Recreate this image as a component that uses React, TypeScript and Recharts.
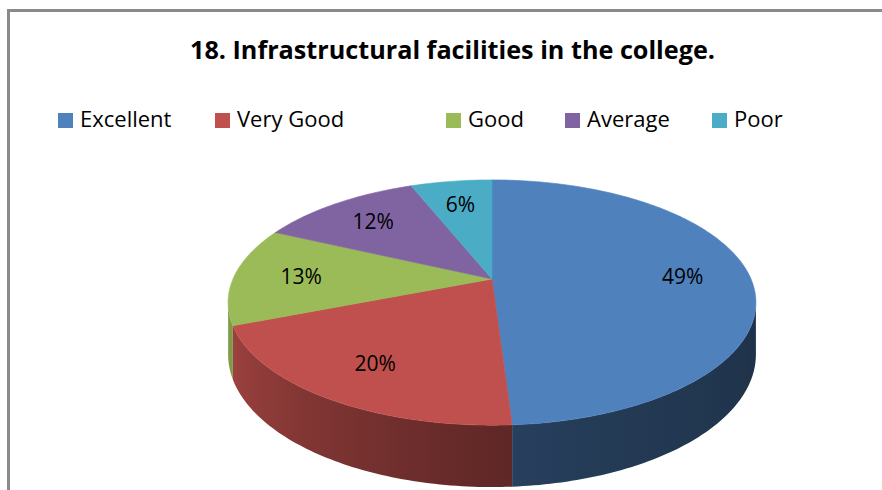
import React from 'react';
import { PieChart, Pie, Legend } from 'recharts';

const title = '18. Infrastructural facilities in the college.';
const categories = ['Excellent', 'Very Good', 'Good', 'Average', 'Poor'];
const values = [49, 20, 13, 12, 6];
const colors = ['#4F81BD', '#C0504D', '#9BBB59', '#8064A2', '#4BACC6'];

const data = categories.map((name, i) => ({ name, value: values[i] }));

// layout / projection constants
const CX = 492;
const CY = 279;
const R = 259;
const P = 0.192; // perspective factor
const KY = 0.456; // vertical squash
const DEPTH = 50;
const ALPHA = (Math.asin(P) * 180) / Math.PI;
const VIS_LO = -180 + ALPHA;
const VIS_HI = -ALPHA;
const FONT = '"Open Sans", "Liberation Sans", Arial, sans-serif';

const legendX = [58, 215, 446, 565, 712];

function proj(cx: number, cy: number, r: number, deg: number, frac = 1) {
  const t = (deg * Math.PI) / 180;
  const X = Math.cos(t) * frac;
  const Z = Math.sin(t) * frac;
  const w = 1 + P * Z;
  return { x: cx + (r * X) / w, y: cy - (r * KY * Z) / w, w };
}

const shadeStops: [number, number][] = [
  [-170, 0.86],
  [-150, 0.78],
  [-120, 0.64],
  [-90, 0.5],
  [-60, 0.44],
  [-30, 0.4],
  [-10, 0.38],
];

function shadeFactor(a: number) {
  if (a <= shadeStops[0][0]) return shadeStops[0][1];
  for (let i = 1; i < shadeStops.length; i++) {
    const [a1, f1] = shadeStops[i];
    const [a0, f0] = shadeStops[i - 1];
    if (a <= a1) return f0 + ((a - a0) / (a1 - a0)) * (f1 - f0);
  }
  return shadeStops[shadeStops.length - 1][1];
}

function shade(hex: string, f: number) {
  const n = parseInt(hex.slice(1), 16);
  const r = Math.round(((n >> 16) & 255) * f);
  const g = Math.round(((n >> 8) & 255) * f);
  const b = Math.round((n & 255) * f);
  return `rgb(${r},${g},${b})`;
}

const renderSlice = (props: any) => {
  const { cx, cy, outerRadius, startAngle, endAngle, index, midAngle, percent } = props;
  const color = colors[index % colors.length];
  const lo = Math.min(startAngle, endAngle);
  const hi = Math.max(startAngle, endAngle);
  const n = Math.max(8, Math.ceil(hi - lo));
  const pts: string[] = [];
  for (let k = 0; k <= n; k++) {
    const a = lo + ((hi - lo) * k) / n;
    const p = proj(cx, cy, outerRadius, a);
    pts.push(`${p.x.toFixed(2)},${p.y.toFixed(2)}`);
  }
  const topD = `M${cx},${cy} L${pts.join(' L')} Z`;

  let side: React.ReactNode = null;
  const vlo = Math.max(lo, VIS_LO);
  const vhi = Math.min(hi, VIS_HI);
  if (vhi > vlo) {
    const m = Math.max(2, Math.ceil(vhi - vlo));
    const topPts: { x: number; y: number; w: number; a: number }[] = [];
    for (let k = 0; k <= m; k++) {
      const a = vlo + ((vhi - vlo) * k) / m;
      const p = proj(cx, cy, outerRadius, a);
      topPts.push({ ...p, a });
    }
    const bottom = topPts.map((p) => `${p.x.toFixed(2)},${(p.y + DEPTH / p.w).toFixed(2)}`).reverse();
    const d = `M${topPts.map((p) => `${p.x.toFixed(2)},${p.y.toFixed(2)}`).join(' L')} L${bottom.join(' L')} Z`;
    const x0 = topPts[0].x;
    const x1 = topPts[topPts.length - 1].x;
    const gid = `side-grad-${index}`;
    const stops: React.ReactNode[] = [];
    const ns = 12;
    for (let k = 0; k <= ns; k++) {
      const p = topPts[Math.round((m * k) / ns)];
      const off = x1 > x0 ? (p.x - x0) / (x1 - x0) : 0;
      stops.push(<stop key={k} offset={off} stopColor={shade(color, shadeFactor(p.a))} />);
    }
    side = (
      <g>
        <defs>
          <linearGradient id={gid} gradientUnits="userSpaceOnUse" x1={x0} y1={0} x2={x1} y2={0}>
            {stops}
          </linearGradient>
        </defs>
        <path d={d} fill={`url(#${gid})`} stroke="none" />
      </g>
    );
  }
  const lp = proj(cx, cy, outerRadius, midAngle, 0.74);
  return (
    <g key={`slice-${index}`}>
      {side}
      <path d={topD} fill={color} stroke={color} strokeWidth={0.6} />
      <text
        x={lp.x}
        y={lp.y}
        textAnchor="middle"
        dominantBaseline="central"
        fontFamily={FONT}
        fontSize={21}
        fill="#000"
      >
        {`${Math.round(percent * 100)}%`}
      </text>
    </g>
  );
};

const renderLegend = (props: any) => {
  const payload = [...(props.payload || [])].sort(
    (a: any, b: any) => categories.indexOf(a.value) - categories.indexOf(b.value)
  );
  return (
    <svg width={882} height={140} style={{ display: 'block' }}>
      {payload.map((entry: any) => {
        const i = categories.indexOf(entry.value);
        return (
          <g key={entry.value}>
            <rect x={legendX[i]} y={113} width={15} height={15} fill={colors[i]} />
            <text x={legendX[i] + 22} y={127} fontFamily={FONT} fontSize={22} fill="#000">
              {entry.value}
            </text>
          </g>
        );
      })}
    </svg>
  );
};

export default function App() {
  return (
    <div style={{ position: 'absolute', left: 0, top: 0, width: 882, height: 490, background: '#fff', overflow: 'hidden' }}>
      <div
        style={{
          position: 'absolute',
          left: 7,
          top: 9,
          width: 900,
          height: 500,
          borderLeft: '3px solid #8a8a8a',
          borderTop: '3px solid #8a8a8a',
        }}
      />
      <svg width={882} height={80} style={{ position: 'absolute', left: 0, top: 0 }}>
        <text
          x={190}
          y={59}
          fontFamily={FONT}
          fontWeight="bold"
          fontSize={25}
          fill="#000"
          textLength={525}
          lengthAdjust="spacingAndGlyphs"
        >
          {title}
        </text>
      </svg>
      <div style={{ position: 'absolute', left: 0, top: 0 }}>
        <PieChart width={882} height={490} margin={{ top: 0, right: 0, bottom: 0, left: 0 }}>
          <Legend
            content={renderLegend}
            wrapperStyle={{ position: 'absolute', left: 0, top: 0, width: 882, height: 140 }}
          />
          <Pie
            data={data}
            dataKey="value"
            nameKey="name"
            cx={CX}
            cy={CY}
            outerRadius={R}
            startAngle={90}
            endAngle={-270}
            fill="transparent"
            stroke="none"
            label={renderSlice}
            labelLine={false}
            isAnimationActive={false}
          />
        </PieChart>
      </div>
    </div>
  );
}
